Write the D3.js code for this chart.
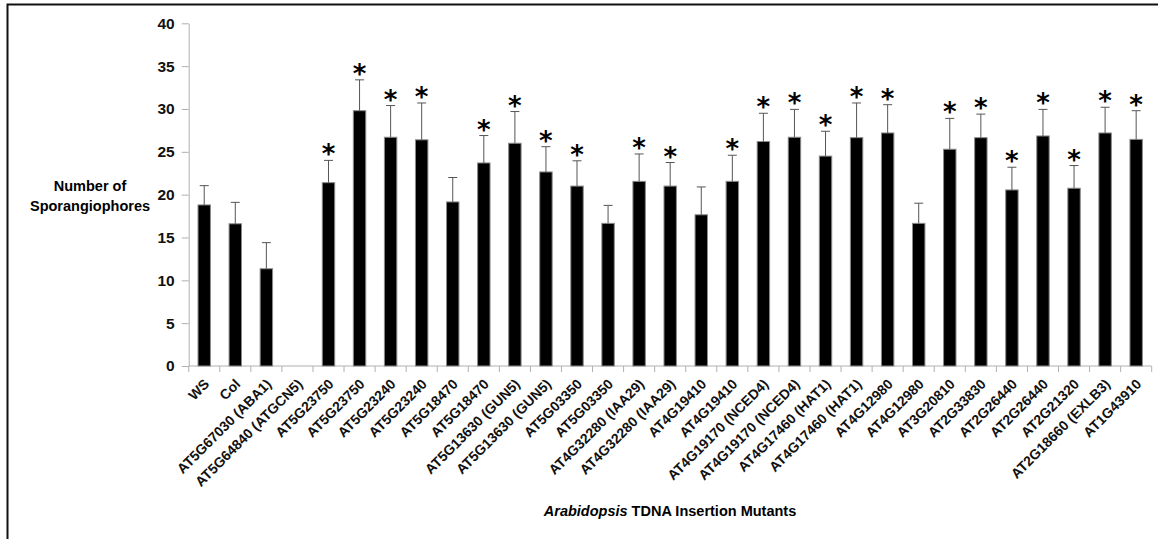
<!DOCTYPE html>
<html lang="en">
<head>
    <meta charset="UTF-8">
    <title>Sporangiophores</title>
    <script src="https://cdn.jsdelivr.net/npm/d3@7/dist/d3.min.js"></script>
    <style>
        body { margin:0; background:#fff; }
        text { font-family:'Liberation Sans', Arial, sans-serif; }
    </style>
</head>
<body>
    <div id="grafica"></div>
<script>
// data
mutantes = ['WS','Col','AT5G67030 (ABA1)','AT5G64840 (ATGCN5)','AT5G23750','AT5G23750',
    'AT5G23240','AT5G23240','AT5G18470','AT5G18470','AT5G13630 (GUN5)','AT5G13630 (GUN5)',
    'AT5G03350','AT5G03350','AT4G32280 (IAA29)','AT4G32280 (IAA29)','AT4G19410','AT4G19410',
    'AT4G19170 (NCED4)','AT4G19170 (NCED4)','AT4G17460 (HAT1)','AT4G17460 (HAT1)',
    'AT4G12980','AT4G12980','AT3G20810','AT2G33830','AT2G26440','AT2G26440','AT2G21320',
    'AT2G18660 (EXLB3)','AT1G43910']
medias = [18.8,16.6,11.35,0,21.4,29.8,26.7,26.4,19.15,23.7,26.0,22.65,21.0,16.65,21.55,21.0,
    17.65,21.55,26.2,26.7,24.5,26.65,27.2,16.65,25.3,26.65,20.55,26.85,20.75,27.2,26.45]
errores = [2.25,2.5,3.05,0,2.6,3.6,3.7,4.3,2.85,3.2,3.7,2.95,2.95,2.1,3.2,2.75,
    3.25,3.05,3.3,3.25,2.9,4.05,3.3,2.35,3.6,2.75,2.65,3.1,2.65,3.0,3.35]
signif = [0,0,0,0,1,1,1,1,0,1,1,1,1,0,1,1,0,1,1,1,1,1,1,0,1,1,1,1,1,1,1]
yTicks = [0,5,10,15,20,25,30,35,40]

ancho_total = 1158
alto_total = 539
margin = {top:23.3, right:6.3, bottom:173, left:188.7}
ancho = ancho_total-margin.left-margin.right
alto = alto_total-margin.top-margin.bottom

svg = d3.select('#grafica')
        .append('svg')
        .attr('width',ancho_total)
        .attr('height',alto_total)

// frame (only left and top edges show)
svg.append('rect')
    .attr('x',7.5).attr('y',4.5)
    .attr('width',1300).attr('height',700)
    .attr('fill','none')
    .attr('stroke','#111')
    .attr('stroke-width',2)

g = svg.append('g')
        .attr('transform','translate('+margin.left+','+margin.top+')')

x = d3.scaleBand()
    .domain(d3.range(mutantes.length))
    .range([0,ancho])
    .paddingInner(0.6)
    .paddingOuter(0.3)

y = d3.scaleLinear()
    .domain([0,40])
    .range([alto,0])

// y axis
yAxis = g.append('g')
    .call(d3.axisLeft(y).tickValues(yTicks).tickSize(7).tickSizeOuter(0))
yAxis.select('.domain').attr('stroke','#b0b0b0')
yAxis.selectAll('.tick line').attr('stroke','#b0b0b0')
yAxis.selectAll('.tick text')
    .attr('x',-14)
    .attr('font-size',15.5)
    .attr('font-weight','bold')
    .attr('fill','#111')
    .style('font-family',"'Liberation Sans', Arial, sans-serif")

// x axis: ticks between categories
paso = x.step()
xAxis = g.append('g')
    .attr('transform','translate(0,'+alto+')')
xAxis.append('line')
    .attr('x1',0).attr('x2',ancho)
    .attr('stroke','#b0b0b0')
xAxis.selectAll('.tk')
    .data(d3.range(mutantes.length+1))
    .join('line')
    .attr('class','tk')
    .attr('x1',d=>d*paso).attr('x2',d=>d*paso)
    .attr('y1',0).attr('y2',6)
    .attr('stroke','#b0b0b0')

xAxis.selectAll('.lbl')
    .data(mutantes)
    .join('text')
    .attr('class','lbl')
    .attr('transform',(d,i)=>'translate('+(x(i)+x.bandwidth()/2+6)+',19) rotate(-45)')
    .attr('text-anchor','end')
    .attr('font-size',14)
    .attr('font-weight','bold')
    .attr('fill','#111')
    .text(d=>d)

// bars
g.selectAll('.bar')
    .data(medias)
    .join('rect')
    .attr('class','bar')
    .attr('x',(d,i)=>x(i))
    .attr('y',d=>y(d))
    .attr('width',x.bandwidth())
    .attr('height',d=>alto-y(d))
    .attr('fill','#000')
    .attr('stroke','#8a8a8a')
    .attr('stroke-width',1)
    .attr('display',d=>d>0?null:'none')

// error bars
err = g.selectAll('.err')
    .data(medias.map((m,i)=>({i:i, m:m, e:errores[i]})).filter(d=>d.m>0))
    .join('g')
    .attr('class','err')
err.append('line')
    .attr('x1',d=>x(d.i)+x.bandwidth()/2).attr('x2',d=>x(d.i)+x.bandwidth()/2)
    .attr('y1',d=>y(d.m)).attr('y2',d=>y(d.m+d.e))
    .attr('stroke','#555')
err.append('line')
    .attr('x1',d=>x(d.i)+x.bandwidth()/2-4.5).attr('x2',d=>x(d.i)+x.bandwidth()/2+4.5)
    .attr('y1',d=>y(d.m+d.e)).attr('y2',d=>y(d.m+d.e))
    .attr('stroke','#555')

// asterisks
g.selectAll('.star')
    .data(medias.map((m,i)=>({i:i, top:m+errores[i], s:signif[i]})).filter(d=>d.s))
    .join('text')
    .attr('class','star')
    .attr('x',d=>x(d.i)+x.bandwidth()/2)
    .attr('y',d=>y(d.top)+3)
    .attr('text-anchor','middle')
    .attr('font-size',26)
    .attr('font-weight','bold')
    .style('font-family',"'DejaVu Sans', sans-serif")
    .text('*')

// axis titles
yt = svg.append('text')
    .attr('x',90).attr('y',191)
    .attr('text-anchor','middle')
    .attr('font-size',14.5)
    .attr('font-weight','bold')
yt.append('tspan').attr('x',90).text('Number of')
yt.append('tspan').attr('x',90).attr('dy',20).text('Sporangiophores')

xt = svg.append('text')
    .attr('x',670).attr('y',516)
    .attr('text-anchor','middle')
    .attr('font-size',14.5)
    .attr('font-weight','bold')
xt.append('tspan').attr('font-style','italic').text('Arabidopsis')
xt.append('tspan').text(' TDNA Insertion Mutants')
</script>
</body>
</html>
